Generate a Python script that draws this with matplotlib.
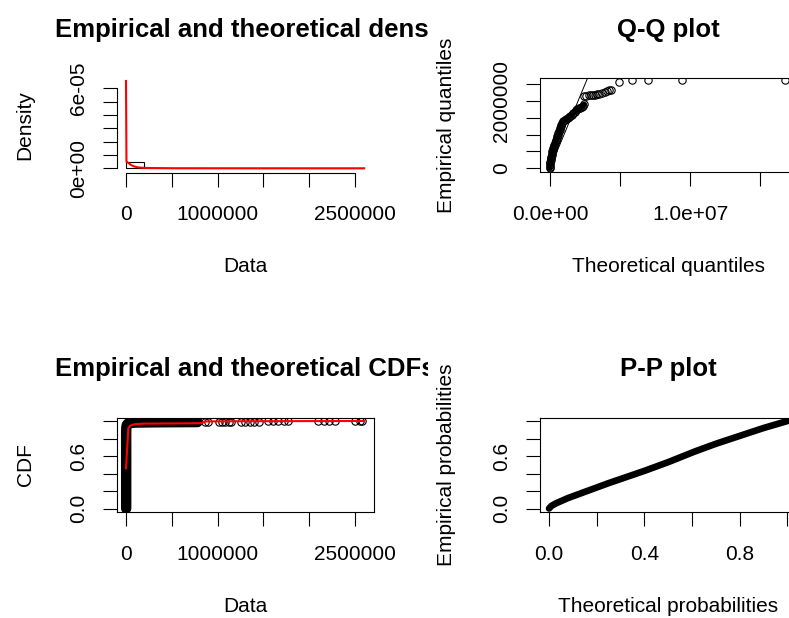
import matplotlib
matplotlib.use("Agg")
import matplotlib.pyplot as plt
from matplotlib.transforms import Bbox, TransformedBbox

plt.rcParams['font.family'] = ['Liberation Sans', 'DejaVu Sans']

W, H = 789, 618

# ---- data ----
# histogram (bin edges, densities)
hist_edges = [0, 200000, 400000, 600000, 800000, 1000000, 1200000, 1400000,
              1600000, 1800000, 2000000, 2200000, 2400000, 2600000]
hist_dens = [4.9e-6, 2.0e-8, 8e-9, 6e-9, 4e-9, 1.2e-8, 8e-9, 6e-9, 6e-9,
             2e-9, 6e-9, 4e-9, 4e-9]
# fitted density curve
dens_x = [0, 5000, 26000, 52000, 78000, 104000, 130000, 182000, 260000,
          520000, 1300000, 2600000]
dens_y = [6.55e-5, 5.0e-6, 4.0e-6, 2.6e-6, 1.7e-6, 1.1e-6, 7e-7, 4e-7,
          2e-7, 5e-8, 1e-8, 1e-9]

# Q-Q: theoretical vs empirical quantiles (millions)
qq_theo = [0.0, 0.0, 0.01, 0.02, 0.03, 0.05, 0.07, 0.09, 0.12, 0.14, 0.17,
           0.2, 0.24, 0.28, 0.32, 0.36, 0.4, 0.44, 0.48, 0.52, 0.56, 0.6,
           0.64, 0.68, 0.72, 0.76, 0.8, 0.86, 0.95, 1.05, 1.15, 1.25, 1.35,
           1.45, 1.55, 1.65, 1.75, 1.85, 1.95, 2.05, 2.15, 2.25, 2.35, 2.45,
           2.45, 2.6, 2.75, 2.9, 3.05, 3.2, 3.35, 3.5, 3.7, 3.9, 4.05, 4.2,
           4.35, 4.95, 5.83, 7.0, 9.45, 16.8]
qq_emp = [0.0, 0.05, 0.1, 0.15, 0.2, 0.25, 0.3, 0.35, 0.4, 0.45, 0.5, 0.55,
          0.6, 0.65, 0.7, 0.75, 0.8, 0.85, 0.9, 0.95, 1.0, 1.05, 1.1, 1.15,
          1.2, 1.25, 1.3, 1.35, 1.4, 1.43, 1.46, 1.5, 1.53, 1.56, 1.6, 1.64,
          1.68, 1.72, 1.75, 1.78, 1.8, 1.83, 1.86, 1.9, 2.15, 2.15, 2.17,
          2.17, 2.18, 2.18, 2.2, 2.2, 2.25, 2.28, 2.3, 2.32, 2.33, 2.57,
          2.63, 2.63, 2.63, 2.63]
qq_dense = 44          # first points overlap into a solid band
qq_ref = [0.0, 3.0]    # y = x line

# empirical CDF: dense part (solid band) and sparse tail points
ecdf_band_x = [2000, 2000, 4000, 9000, 20000, 50000, 100000, 300000, 600000,
               780000]
ecdf_band_y = [0.0, 0.88, 0.93, 0.955, 0.97, 0.978, 0.982, 0.985, 0.987,
               0.988]
ecdf_tail_x = [860000, 900000, 1020000, 1050000, 1080000, 1120000, 1150000,
               1260000, 1300000, 1350000, 1400000, 1450000, 1550000, 1600000,
               1660000, 1720000, 1770000, 2100000, 2160000, 2220000, 2280000,
               2500000, 2550000, 2580000]
ecdf_tail_y = [0.989, 0.989, 0.99, 0.99, 0.991, 0.991, 0.992, 0.992, 0.993,
               0.993, 0.994, 0.994, 0.995, 0.995, 0.996, 0.996, 0.997, 0.997,
               0.998, 0.998, 0.998, 0.999, 0.999, 1.0]
# fitted CDF
cdf_x = [0, 26000, 52000, 104000, 200000, 500000, 830000, 860000, 1200000,
         2000000, 2600000]
cdf_y = [0.46, 0.92, 0.95, 0.965, 0.97, 0.972, 0.975, 0.995, 0.997, 0.999,
         1.0]

# P-P band
pp_theo = [0.0, 0.01, 0.03, 0.08, 0.16, 0.25, 0.40, 0.50, 0.61, 0.70, 0.80,
           0.90, 1.0]
pp_emp = [0.0, 0.03, 0.06, 0.12, 0.20, 0.29, 0.43, 0.53, 0.65, 0.74, 0.83,
          0.92, 1.0]

# ---- layout helpers (pixel boxes) ----
fig = plt.figure(figsize=(W / 100, H / 100), dpi=100)


def box(l, t, r, b):
    return fig.add_axes([l / W, 1 - b / H, (r - l) / W, (b - t) / H])


def px_text(x, y, s, **kw):
    return fig.text(x / W, 1 - y / H, s, **kw)


TL = 10.1   # tick length (pt)
FS = 15
LW = 0.8


def style(ax, xt, xl, yt, yl):
    ax.set_xticks(xt)
    ax.set_xticklabels(xl)
    ax.set_yticks(yt)
    ax.set_yticklabels(yl)
    ax.tick_params(direction='out', length=TL, width=LW, labelsize=FS)
    ax.tick_params(axis='x', pad=13.5)
    ax.tick_params(axis='y', pad=10.5, labelrotation=90)
    for lab in ax.get_yticklabels():
        lab.set_va('center')
    for s in ax.spines.values():
        s.set_linewidth(LW)


def clip_left(t, right_px):
    bb = TransformedBbox(Bbox.from_extents(0, 0, right_px / W, 1), fig.transFigure)
    t.set_clip_box(bb)
    t.set_clip_on(True)


# ---- density ----
ax1 = box(116.5, 77.7, 374, 172.7)
ax1.set_xlim(-1.037e5, 2.707e6)
ax1.set_ylim(-3.3e-6, 6.795e-5)
widths = [hist_edges[i + 1] - hist_edges[i] for i in range(len(hist_dens))]
ax1.bar(hist_edges[:-1], hist_dens, width=widths, align='edge', fill=False,
        edgecolor='black', linewidth=LW)
ax1.plot(dens_x, dens_y, color='red', lw=1.5)
style(ax1, [0, 5e5, 1e6, 1.5e6, 2e6, 2.5e6], ['0', '', '1000000', '', '', '2500000'],
      [0, 1e-5, 2e-5, 3e-5, 4e-5, 5e-5, 6e-5], ['0e+00', '', '', '', '', '', '6e-05'])
ax1.spines['top'].set_visible(False)
ax1.spines['right'].set_visible(False)
ax1.spines['left'].set_bounds(0, 6e-5)
ax1.spines['bottom'].set_bounds(0, 2.5e6)

# ---- Q-Q ----
ax2 = box(539.5, 77.7, 797, 172.3)
ax2.set_xlim(-7.5e5, 1.764e7)
ax2.set_ylim(-1.19e5, 2.696e6)
qx = [v * 1e6 for v in qq_theo]
qy = [v * 1e6 for v in qq_emp]
ax2.plot([v * 1e6 for v in qq_ref], [v * 1e6 for v in qq_ref], color='black', lw=0.7)
ax2.plot(qx[:qq_dense], qy[:qq_dense], color='black', lw=4.0,
         solid_capstyle='round', solid_joinstyle='round')
ax2.plot(qx, qy, 'o', mfc='none', mec='black', ms=5.3, mew=0.8)
style(ax2, [0, 5e6, 1e7, 1.5e7], ['0.0e+00', '', '1.0e+07', ''],
      [0, 5e5, 1e6, 1.5e6, 2e6, 2.5e6], ['0', '', '', '', '2000000', ''])

# ---- CDF ----
ax3 = box(116.5, 417.5, 374, 512)
ax3.set_xlim(-1.037e5, 2.707e6)
ax3.set_ylim(-0.04, 1.04)
ax3.plot(ecdf_band_x, ecdf_band_y, color='black', lw=7.5, solid_capstyle='round',
         solid_joinstyle='round')
ax3.plot(ecdf_tail_x, ecdf_tail_y, 'o', mfc='none', mec='black', ms=5.3, mew=0.8)
ax3.plot(cdf_x, cdf_y, color='red', lw=1.5)
style(ax3, [0, 5e5, 1e6, 1.5e6, 2e6, 2.5e6], ['0', '', '1000000', '', '', '2500000'],
      [0, 0.2, 0.4, 0.6, 0.8, 1.0], ['0.0', '', '', '0.6', '', ''])

# ---- P-P ----
ax4 = box(539.5, 417.5, 797, 512)
ax4.set_xlim(-0.04, 1.04)
ax4.set_ylim(-0.04, 1.04)
ax4.plot(pp_theo, pp_emp, color='black', lw=4.8, solid_capstyle='round',
         solid_joinstyle='round')
style(ax4, [0, 0.2, 0.4, 0.6, 0.8, 1.0], ['0.0', '', '0.4', '', '0.8', ''],
      [0, 0.2, 0.4, 0.6, 0.8, 1.0], ['0.0', '', '', '0.6', '', ''])

# ---- titles and axis labels ----
TFS = 18.5
t1 = px_text(245, 37, 'Empirical and theoretical dens.', ha='center', va='baseline',
             fontsize=TFS, fontweight='bold')
clip_left(t1, 428)
px_text(668, 37, 'Q-Q plot', ha='center', va='baseline', fontsize=TFS, fontweight='bold')
t3 = px_text(245, 376, 'Empirical and theoretical CDFs', ha='center', va='baseline',
             fontsize=TFS, fontweight='bold')
clip_left(t3, 428)
px_text(668, 376, 'P-P plot', ha='center', va='baseline', fontsize=TFS, fontweight='bold')

px_text(245, 267, 'Data', ha='center', va='center', fontsize=FS)
px_text(668, 267, 'Theoretical quantiles', ha='center', va='center', fontsize=FS)
px_text(245, 607, 'Data', ha='center', va='center', fontsize=FS)
px_text(668, 607, 'Theoretical probabilities', ha='center', va='center', fontsize=FS)

px_text(25, 125, 'Density', ha='center', va='center', rotation=90, fontsize=FS)
px_text(446, 125, 'Empirical quantiles', ha='center', va='center', rotation=90, fontsize=FS)
px_text(25, 465, 'CDF', ha='center', va='center', rotation=90, fontsize=FS)
px_text(446, 465, 'Empirical probabilities', ha='center', va='center', rotation=90,
        fontsize=FS)

fig.savefig('out.png', dpi=100)
